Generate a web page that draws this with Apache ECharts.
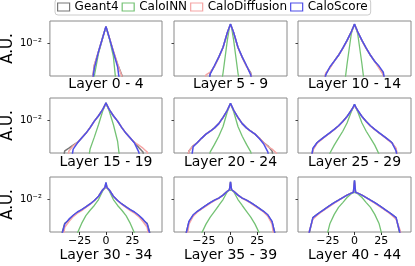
<!DOCTYPE html>
<html><head><meta charset="utf-8">
<script src="https://cdn.jsdelivr.net/npm/echarts@6/dist/echarts.min.js"></script>
<style>html,body{margin:0;padding:0;background:#fff}#c{width:415px;height:266px}</style>
</head><body><div id="c"></div>
<script>
// bin centres (x position)
const binCenters = [-51,-47,-43,-39,-35,-31,-27,-23,-19,-15,-11,-7,-3,-1,0,1,3,7,11,15,19,23,27,31,35,39,43,47,51];
const seriesNames = ['Geant4','CaloINN','CaloDiffusion','CaloScore'];
const panelTitles = ['Layer 0 - 4','Layer 5 - 9','Layer 10 - 14','Layer 15 - 19','Layer 20 - 24','Layer 25 - 29','Layer 30 - 34','Layer 35 - 39','Layer 40 - 44'];
const xTickValues = [-25, 0, 25];
const yTickValues = [0.01];

// Layer 0 - 4
const g4_L0  = [0.0005,0.0005,0.0005,0.0005,0.0005,0.0005,0.0005,0.0005,0.0005,0.0005,0.0030,0.0064,0.0138,0.0202,0.0244,0.0202,0.0138,0.0064,0.0032,0.0018,0.0005,0.0005,0.0005,0.0005,0.0005,0.0005,0.0005,0.0005,0.0005];
const inn_L0 = [0.0005,0.0005,0.0005,0.0005,0.0005,0.0005,0.0005,0.0005,0.0005,0.0005,0.0017,0.0058,0.0134,0.0200,0.0240,0.0200,0.0134,0.0049,0.0005,0.0005,0.0005,0.0005,0.0005,0.0005,0.0005,0.0005,0.0005,0.0005,0.0005];
const dif_L0 = [0.0005,0.0005,0.0005,0.0005,0.0005,0.0005,0.0005,0.0005,0.0005,0.0005,0.0031,0.0064,0.0138,0.0202,0.0244,0.0202,0.0140,0.0066,0.0032,0.0017,0.0005,0.0005,0.0005,0.0005,0.0005,0.0005,0.0005,0.0005,0.0005];
const sco_L0 = [0.0005,0.0005,0.0005,0.0005,0.0005,0.0005,0.0005,0.0005,0.0005,0.0005,0.0026,0.0064,0.0138,0.0204,0.0247,0.0204,0.0138,0.0062,0.0028,0.0005,0.0005,0.0005,0.0005,0.0005,0.0005,0.0005,0.0005,0.0005,0.0005];
// Layer 5 - 9
const g4_L5  = [0.0005,0.0005,0.0005,0.0005,0.0005,0.0005,0.0005,0.0005,0.0020,0.0029,0.0047,0.0079,0.0175,0.0240,0.0277,0.0240,0.0175,0.0079,0.0047,0.0029,0.0020,0.0005,0.0005,0.0005,0.0005,0.0005,0.0005,0.0005,0.0005];
const inn_L5 = [0.0005,0.0005,0.0005,0.0005,0.0005,0.0005,0.0005,0.0005,0.0005,0.0005,0.0005,0.0020,0.0115,0.0234,0.0274,0.0234,0.0115,0.0020,0.0005,0.0005,0.0005,0.0005,0.0005,0.0005,0.0005,0.0005,0.0005,0.0005,0.0005];
const dif_L5 = [0.0005,0.0005,0.0005,0.0005,0.0005,0.0005,0.0005,0.0018,0.0021,0.0029,0.0046,0.0079,0.0173,0.0238,0.0274,0.0238,0.0173,0.0079,0.0046,0.0029,0.0019,0.0005,0.0005,0.0005,0.0005,0.0005,0.0005,0.0005,0.0005];
const sco_L5 = [0.0005,0.0005,0.0005,0.0005,0.0005,0.0005,0.0005,0.0005,0.0019,0.0030,0.0047,0.0080,0.0175,0.0240,0.0280,0.0240,0.0175,0.0080,0.0047,0.0030,0.0018,0.0005,0.0005,0.0005,0.0005,0.0005,0.0005,0.0005,0.0005];
// Layer 10 - 14
const g4_L10  = [0.0005,0.0005,0.0005,0.0005,0.0005,0.0005,0.0019,0.0027,0.0038,0.0052,0.0075,0.0115,0.0184,0.0240,0.0277,0.0240,0.0184,0.0115,0.0075,0.0052,0.0038,0.0027,0.0019,0.0005,0.0005,0.0005,0.0005,0.0005,0.0005];
const inn_L10 = [0.0005,0.0005,0.0005,0.0005,0.0005,0.0005,0.0005,0.0005,0.0005,0.0005,0.0005,0.0032,0.0166,0.0240,0.0274,0.0240,0.0166,0.0032,0.0005,0.0005,0.0005,0.0005,0.0005,0.0005,0.0005,0.0005,0.0005,0.0005,0.0005];
const dif_L10 = [0.0005,0.0005,0.0005,0.0005,0.0005,0.0005,0.0020,0.0026,0.0038,0.0052,0.0075,0.0115,0.0184,0.0240,0.0274,0.0240,0.0184,0.0115,0.0075,0.0052,0.0037,0.0026,0.0018,0.0005,0.0005,0.0005,0.0005,0.0005,0.0005];
const sco_L10 = [0.0005,0.0005,0.0005,0.0005,0.0005,0.0005,0.0018,0.0028,0.0038,0.0052,0.0076,0.0116,0.0184,0.0242,0.0280,0.0242,0.0184,0.0116,0.0076,0.0052,0.0037,0.0029,0.0021,0.0005,0.0005,0.0005,0.0005,0.0005,0.0005];
// Layer 15 - 19
const g4_L15  = [0.0005,0.0005,0.0005,0.0019,0.0022,0.0026,0.0030,0.0038,0.0049,0.0067,0.0095,0.0127,0.0178,0.0222,0.0253,0.0222,0.0178,0.0127,0.0095,0.0067,0.0049,0.0038,0.0030,0.0023,0.0018,0.0005,0.0005,0.0005,0.0005];
const inn_L15 = [0.0005,0.0005,0.0005,0.0005,0.0005,0.0005,0.0005,0.0005,0.0005,0.0021,0.0040,0.0079,0.0166,0.0216,0.0253,0.0216,0.0166,0.0079,0.0032,0.0005,0.0005,0.0005,0.0005,0.0005,0.0005,0.0005,0.0005,0.0005,0.0005];
const dif_L15 = [0.0005,0.0005,0.0005,0.0005,0.0019,0.0025,0.0030,0.0038,0.0049,0.0067,0.0095,0.0127,0.0178,0.0222,0.0250,0.0222,0.0178,0.0127,0.0095,0.0067,0.0049,0.0038,0.0030,0.0026,0.0022,0.0018,0.0005,0.0005,0.0005];
const sco_L15 = [0.0005,0.0005,0.0005,0.0005,0.0005,0.0021,0.0029,0.0038,0.0049,0.0067,0.0095,0.0127,0.0178,0.0224,0.0255,0.0224,0.0178,0.0127,0.0095,0.0067,0.0049,0.0038,0.0029,0.0018,0.0005,0.0005,0.0005,0.0005,0.0005];
// Layer 20 - 24
const g4_L20  = [0.0005,0.0005,0.0005,0.0019,0.0025,0.0030,0.0038,0.0047,0.0055,0.0066,0.0083,0.0115,0.0170,0.0216,0.0244,0.0216,0.0170,0.0115,0.0083,0.0066,0.0055,0.0047,0.0038,0.0030,0.0025,0.0019,0.0005,0.0005,0.0005];
const inn_L20 = [0.0005,0.0005,0.0005,0.0005,0.0005,0.0005,0.0005,0.0005,0.0018,0.0027,0.0042,0.0071,0.0157,0.0210,0.0244,0.0210,0.0157,0.0071,0.0042,0.0027,0.0018,0.0005,0.0005,0.0005,0.0005,0.0005,0.0005,0.0005,0.0005];
const dif_L20 = [0.0005,0.0005,0.0005,0.0019,0.0025,0.0030,0.0038,0.0047,0.0055,0.0066,0.0083,0.0115,0.0170,0.0216,0.0242,0.0216,0.0170,0.0115,0.0083,0.0066,0.0055,0.0047,0.0038,0.0030,0.0024,0.0021,0.0017,0.0005,0.0005];
const sco_L20 = [0.0005,0.0005,0.0005,0.0005,0.0024,0.0030,0.0038,0.0047,0.0055,0.0066,0.0083,0.0116,0.0170,0.0218,0.0247,0.0218,0.0170,0.0116,0.0083,0.0066,0.0055,0.0047,0.0037,0.0028,0.0018,0.0005,0.0005,0.0005,0.0005];
// Layer 25 - 29
const g4_L25  = [0.0005,0.0005,0.0005,0.0021,0.0030,0.0036,0.0043,0.0050,0.0061,0.0073,0.0093,0.0121,0.0170,0.0205,0.0231,0.0205,0.0170,0.0121,0.0093,0.0073,0.0061,0.0050,0.0043,0.0036,0.0030,0.0021,0.0005,0.0005,0.0005];
const inn_L25 = [0.0005,0.0005,0.0005,0.0005,0.0005,0.0005,0.0005,0.0017,0.0026,0.0038,0.0055,0.0086,0.0157,0.0200,0.0228,0.0200,0.0157,0.0086,0.0055,0.0038,0.0026,0.0016,0.0005,0.0005,0.0005,0.0005,0.0005,0.0005,0.0005];
const dif_L25 = [0.0005,0.0005,0.0005,0.0020,0.0029,0.0035,0.0042,0.0050,0.0060,0.0073,0.0092,0.0121,0.0170,0.0205,0.0228,0.0205,0.0170,0.0121,0.0092,0.0072,0.0060,0.0050,0.0042,0.0035,0.0029,0.0022,0.0005,0.0005,0.0005];
const sco_L25 = [0.0005,0.0005,0.0005,0.0022,0.0030,0.0036,0.0043,0.0051,0.0061,0.0074,0.0093,0.0122,0.0170,0.0207,0.0234,0.0207,0.0170,0.0122,0.0093,0.0074,0.0061,0.0051,0.0043,0.0036,0.0030,0.0019,0.0005,0.0005,0.0005];
// Layer 30 - 34
const g4_L30  = [0.0005,0.0005,0.0012,0.0027,0.0032,0.0041,0.0049,0.0056,0.0066,0.0077,0.0093,0.0117,0.0166,0.0184,0.0240,0.0184,0.0166,0.0117,0.0093,0.0077,0.0066,0.0056,0.0049,0.0041,0.0032,0.0027,0.0012,0.0005,0.0005];
const inn_L30 = [0.0005,0.0005,0.0005,0.0005,0.0005,0.0005,0.0016,0.0027,0.0041,0.0055,0.0071,0.0098,0.0157,0.0184,0.0190,0.0184,0.0157,0.0098,0.0071,0.0055,0.0041,0.0027,0.0016,0.0005,0.0005,0.0005,0.0005,0.0005,0.0005];
const dif_L30 = [0.0005,0.0005,0.0005,0.0022,0.0030,0.0039,0.0047,0.0054,0.0064,0.0075,0.0093,0.0117,0.0166,0.0184,0.0220,0.0184,0.0166,0.0117,0.0093,0.0075,0.0064,0.0054,0.0047,0.0039,0.0030,0.0022,0.0005,0.0005,0.0005];
const sco_L30 = [0.0005,0.0005,0.0011,0.0026,0.0034,0.0042,0.0050,0.0057,0.0066,0.0077,0.0093,0.0117,0.0166,0.0187,0.0247,0.0187,0.0166,0.0117,0.0093,0.0077,0.0066,0.0057,0.0050,0.0042,0.0034,0.0026,0.0011,0.0005,0.0005];
// Layer 35 - 39
const g4_L35  = [0.0005,0.0005,0.0012,0.0029,0.0042,0.0052,0.0061,0.0071,0.0083,0.0095,0.0106,0.0124,0.0153,0.0166,0.0253,0.0166,0.0153,0.0124,0.0106,0.0095,0.0083,0.0071,0.0061,0.0052,0.0042,0.0029,0.0012,0.0005,0.0005];
const inn_L35 = [0.0005,0.0005,0.0005,0.0005,0.0005,0.0005,0.0016,0.0026,0.0038,0.0052,0.0071,0.0098,0.0149,0.0161,0.0170,0.0161,0.0149,0.0098,0.0071,0.0052,0.0038,0.0026,0.0016,0.0005,0.0005,0.0005,0.0005,0.0005,0.0005];
const dif_L35 = [0.0005,0.0005,0.0005,0.0026,0.0040,0.0050,0.0059,0.0069,0.0081,0.0093,0.0105,0.0124,0.0153,0.0166,0.0230,0.0166,0.0153,0.0124,0.0105,0.0093,0.0081,0.0069,0.0059,0.0050,0.0040,0.0026,0.0005,0.0005,0.0005];
const sco_L35 = [0.0005,0.0005,0.0011,0.0030,0.0043,0.0052,0.0061,0.0071,0.0083,0.0095,0.0106,0.0124,0.0153,0.0166,0.0253,0.0166,0.0153,0.0124,0.0106,0.0095,0.0083,0.0071,0.0061,0.0052,0.0043,0.0030,0.0011,0.0005,0.0005];
// Layer 40 - 44
const g4_L40  = [0.0005,0.0005,0.0014,0.0037,0.0044,0.0052,0.0061,0.0071,0.0083,0.0095,0.0109,0.0124,0.0138,0.0145,0.0274,0.0145,0.0138,0.0124,0.0109,0.0095,0.0083,0.0071,0.0061,0.0052,0.0044,0.0037,0.0014,0.0005,0.0005];
const inn_L40 = [0.0005,0.0005,0.0005,0.0005,0.0005,0.0005,0.0011,0.0027,0.0044,0.0064,0.0083,0.0109,0.0134,0.0142,0.0145,0.0142,0.0134,0.0109,0.0083,0.0064,0.0044,0.0027,0.0011,0.0005,0.0005,0.0005,0.0005,0.0005,0.0005];
const dif_L40 = [0.0005,0.0005,0.0016,0.0034,0.0042,0.0050,0.0059,0.0069,0.0081,0.0093,0.0108,0.0124,0.0138,0.0145,0.0240,0.0145,0.0138,0.0124,0.0108,0.0093,0.0081,0.0069,0.0059,0.0050,0.0042,0.0034,0.0018,0.0005,0.0005];
const sco_L40 = [0.0005,0.0005,0.0015,0.0037,0.0044,0.0052,0.0061,0.0071,0.0083,0.0095,0.0109,0.0124,0.0138,0.0145,0.0277,0.0145,0.0138,0.0124,0.0109,0.0095,0.0083,0.0071,0.0061,0.0052,0.0044,0.0037,0.0015,0.0005,0.0005];

const panels = [
  [g4_L0, inn_L0, dif_L0, sco_L0],
  [g4_L5, inn_L5, dif_L5, sco_L5],
  [g4_L10, inn_L10, dif_L10, sco_L10],
  [g4_L15, inn_L15, dif_L15, sco_L15],
  [g4_L20, inn_L20, dif_L20, sco_L20],
  [g4_L25, inn_L25, dif_L25, sco_L25],
  [g4_L30, inn_L30, dif_L30, sco_L30],
  [g4_L35, inn_L35, dif_L35, sco_L35],
  [g4_L40, inn_L40, dif_L40, sco_L40]
];

const colors = ['#777777', '#74c274', '#f5a5a5', '#4f4fe8'];
const widths = [1.5, 1.3, 1.5, 1.5];
const FONT = 'DejaVu Sans';
const colLeft = [49, 174, 298];
const rowTop = [21, 98, 177];
const PW = 113, PH = 55;
const nameGaps = [1, 2, 16];

const grid = [], xAxis = [], yAxis = [], series = [];
panels.forEach((p, i) => {
  const r = Math.floor(i / 3), c = i % 3;
  grid.push({left: colLeft[c], top: rowTop[r], width: PW, height: PH,
    show: true, borderColor: '#8a8a8a', borderWidth: 1, backgroundColor: 'transparent', containLabel: false});
  xAxis.push({type: 'value', gridIndex: i, min: -53, max: 53, position: 'bottom',
    name: panelTitles[i], nameLocation: 'middle', nameGap: nameGaps[r],
    nameTextStyle: {fontSize: 14, color: '#000', fontFamily: FONT, verticalAlign: 'top'},
    axisLine: {show: false, onZero: false}, splitLine: {show: false},
    axisTick: {show: r === 2, customValues: xTickValues, length: 3, lineStyle: {color: '#333'}},
    axisLabel: {show: r === 2, customValues: xTickValues, fontSize: 11, color: '#000', fontFamily: FONT, margin: 4,
      formatter: v => v < 0 ? '\u2212' + (-v) : String(v)}});
  yAxis.push({type: 'log', logBase: 10, gridIndex: i, min: 0.0017, max: 0.033, position: 'left',
    name: c === 0 ? 'A.U.' : '', nameLocation: 'middle', nameRotate: 90, nameGap: 30,
    nameTextStyle: {fontSize: 15, color: '#000', fontFamily: FONT},
    axisLine: {show: false, onZero: false}, splitLine: {show: false},
    axisTick: {show: true, customValues: yTickValues, length: 2.5, lineStyle: {color: '#444'}},
    axisLabel: {show: c === 0, customValues: yTickValues, fontSize: 10, color: '#000', fontFamily: FONT, margin: 8,
      formatter: () => '10\u207B\u00B2'}});
  p.forEach((vals, k) => {
    series.push({type: 'line', name: seriesNames[k], xAxisIndex: i, yAxisIndex: i,
      data: binCenters.map((x, j) => [x, vals[j]]),
      showSymbol: false, symbol: 'none', clip: true, z: 2 + k,
      lineStyle: {color: colors[k], width: widths[k]}, itemStyle: {color: colors[k]},
      emphasis: {disabled: true}});
  });
});

const chart = echarts.init(document.getElementById('c'), null, {renderer: 'canvas'});
chart.setOption({
  animation: false,
  backgroundColor: '#fff',
  legend: {left: 55, top: -1, padding: [2, 3, 2, 2], itemGap: 3, itemWidth: 12, itemHeight: 8,
    borderColor: '#cccccc', borderWidth: 1, borderRadius: 3, backgroundColor: '#fff',
    textStyle: {fontSize: 12, color: '#000', fontFamily: FONT},
    data: seriesNames.map((n, k) => ({name: n, icon: 'rect',
      itemStyle: {color: 'rgba(255,255,255,0)', borderColor: colors[k], borderWidth: 1.2}}))},
  grid, xAxis, yAxis, series
});
</script></body></html>
